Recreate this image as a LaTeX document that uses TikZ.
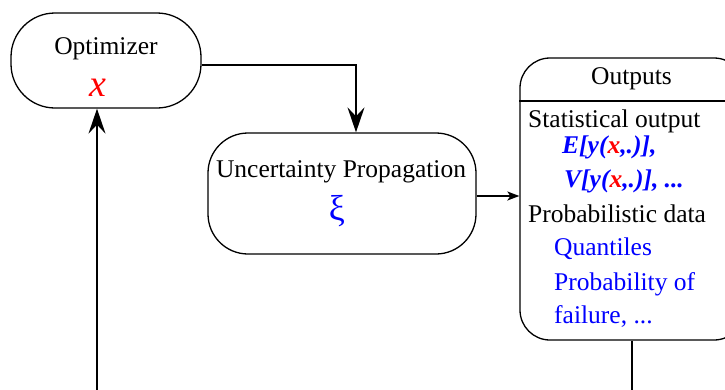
\documentclass[tikz,border=0pt]{standalone}
\usepackage{fontspec}
\setmainfont{Liberation Serif}
\usetikzlibrary{arrows.meta,calc}
\definecolor{myblue}{RGB}{0,0,255}
\definecolor{myred}{RGB}{255,0,0}
\tikzset{
  box/.style={draw, line width=1.3pt, rectangle, inner sep=0pt},
  txt/.style={inner sep=0pt, font=\fontsize{25.5}{30}\selectfont},
  bigsym/.style={inner sep=0pt, font=\fontsize{38}{40}\selectfont},
  conn/.style={line width=1.5pt},
  bigtip/.style={-{Stealth[length=25pt,width=17pt,inset=9pt]}},
  smalltip/.style={-{Stealth[length=12pt,width=9pt,inset=3pt]}}
}
\begin{document}
\begin{tikzpicture}[x=1pt,y=-1pt]
\clip (0,0) rectangle (725,389);
% boxes
\node[box, rounded corners=44pt, minimum width=190pt, minimum height=95pt] (opt) at (106,60.5) {};
\node[box, rounded corners=40pt, minimum width=268pt, minimum height=121pt] (up) at (342,193.5) {};
\node[box, rounded corners=30pt, minimum width=224pt, minimum height=282pt] (out) at (632,199) {};
\draw[line width=1.3pt] (out.west |- 0,101) coordinate (sepl) -- (out.east |- 0,101) coordinate (sepr);
% texts
\node[txt, anchor=base] (optt) at (106,54) {Optimizer};
\node[bigsym, anchor=base, text=myred] (optx) at (98,96) {\itshape x};
\node[txt, anchor=base] (upt) at (341,177) {Uncertainty Propagation};
\node[bigsym, anchor=base, text=myblue, font=\fontsize{36}{40}\selectfont] (upxi) at (337,220) {ξ};
\node[txt, anchor=base] (outt) at (631.5,84) {Outputs};
\node[txt, anchor=base west] (st) at (528,127) {Statistical output};
\node[txt, anchor=base west, text=myblue] (ey) at (562,153) {\bfseries\itshape E[y(\textcolor{myred}{x},.)],};
\node[txt, anchor=base west, text=myblue] (vy) at (564,187) {\bfseries\itshape V[y(\textcolor{myred}{x},.)], ...};
\node[txt, anchor=base west] (pd) at (528,222) {Probabilistic data};
\node[txt, anchor=base west, text=myblue] (qu) at (554,255) {Quantiles};
\node[txt, anchor=base west, text=myblue] (pf) at (554,290) {Probability of};
\node[txt, anchor=base west, text=myblue] (fa) at (554,323) {failure, ...};
% connectors
\coordinate (optr) at ([yshift=-4.5pt]opt.east);
\coordinate (upin) at ([xshift=14pt]up.north);
\draw[conn, bigtip] (optr) -| (upin);
\coordinate (upr) at ([yshift=-2.5pt]up.east);
\draw[conn, smalltip] (upr) -- (upr -| out.west);
\coordinate (bl) at (97,395);
\draw[conn, bigtip] (bl) -- (bl |- opt.south);
\coordinate (br) at (632,395);
\draw[conn] (out.south) -- (br);
\end{tikzpicture}
\end{document}
